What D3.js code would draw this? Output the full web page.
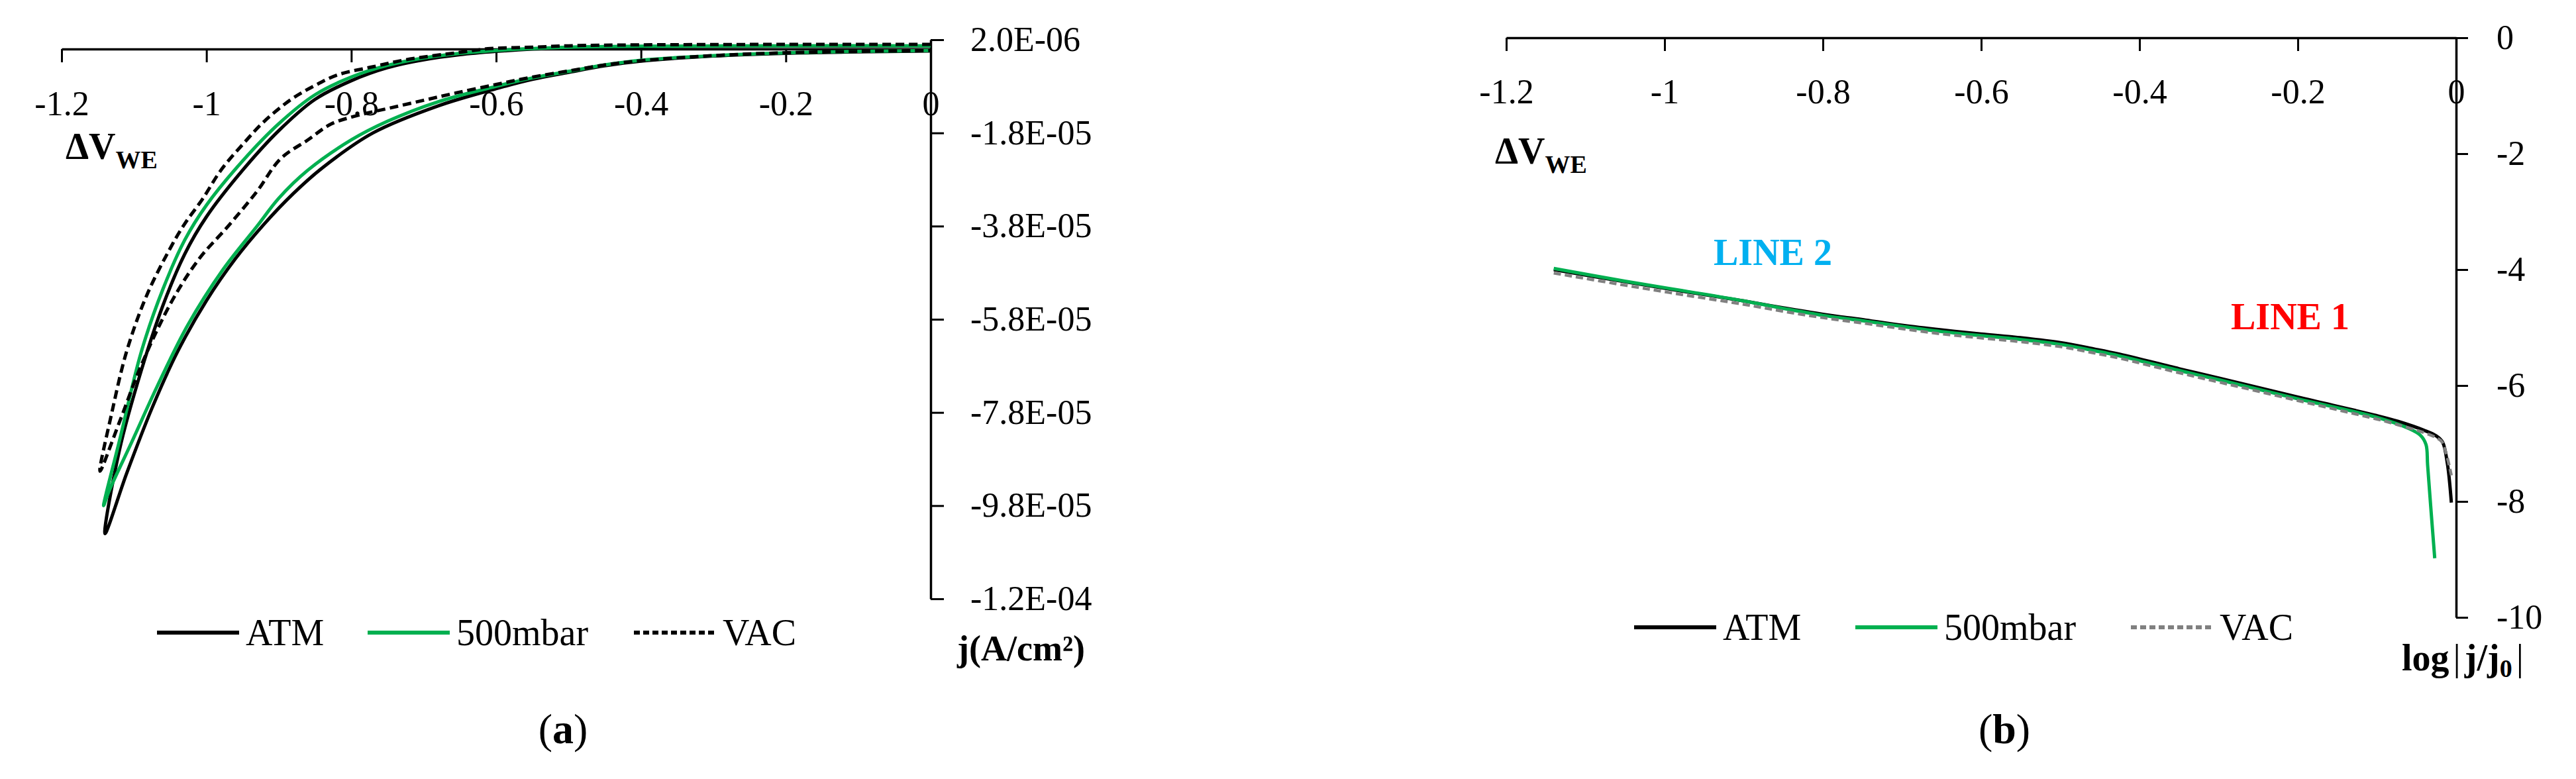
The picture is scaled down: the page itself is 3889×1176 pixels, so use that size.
<!DOCTYPE html>
<html>
<head>
<meta charset="utf-8">
<script src="https://cdn.jsdelivr.net/npm/d3@7"></script>
<style>
  body { margin: 0; background: #fff; }
  svg text { fill: #000; }
</style>
</head>
<body>
<div id="chart"></div>
<script>
// data
//====================
var xTicks = [-1.2, -1, -0.8, -0.6, -0.4, -0.2, 0];
var jTicks = [2, -18, -38, -58, -78, -98, -118];      // uA/cm2, labelled in A/cm2
var logTicks = [0, -2, -4, -6, -8, -10];
var seriesNames = ["ATM", "500mbar", "VAC"];

// (a) current density loops: forward sweep 0 -> tip, then return to 0  (uA/cm2)
var atmV = [0, -0.2, -0.4, -0.5, -0.55, -0.6, -0.65, -0.7, -0.75, -0.8, -0.85, -0.9, -0.95, -1.0, -1.03, -1.06, -1.09, -1.12, -1.14,
    -1.11, -1.075, -1.04, -1.0, -0.96, -0.92, -0.88, -0.84, -0.77, -0.68, -0.6, -0.55, -0.5, -0.45, -0.4, -0.3, -0.2, -0.1, 0];
var atmJ = [0.6, 0.6, 0.5, 0.3, 0, -0.5, -1.2, -2.3, -4.0, -6.8, -10.8, -17.5, -26, -36, -44, -55, -69, -86, -104,
    -91, -77, -65, -54, -45, -37.5, -31, -25.5, -18, -12.2, -8.5, -6.5, -5, -3.6, -2.6, -1.5, -0.9, -0.6, -0.4];

var barV = [0, -0.2, -0.4, -0.5, -0.55, -0.6, -0.65, -0.7, -0.75, -0.8, -0.85, -0.9, -0.95, -1.0, -1.03, -1.06, -1.09, -1.12, -1.142,
    -1.134, -1.103, -1.068, -1.026, -0.977, -0.93, -0.9, -0.86, -0.8, -0.75, -0.68, -0.6, -0.55, -0.5, -0.45, -0.4, -0.3, -0.2, -0.1, 0];
var barJ = [0.7, 0.7, 0.6, 0.4, 0.1, -0.3, -0.9, -1.9, -3.5, -6.0, -9.8, -16, -24, -33.5, -41, -51.5, -65, -84, -98,
    -94.7, -84.3, -72.4, -59.3, -47.3, -38, -32, -26, -19.5, -15.5, -11.3, -8, -6.2, -4.8, -3.4, -2.4, -1.4, -0.8, -0.5, -0.3];

var vacV = [0, -0.2, -0.4, -0.5, -0.55, -0.608, -0.65, -0.725, -0.77, -0.818, -0.85, -0.883, -0.92, -0.949, -0.98, -1.005, -1.03, -1.047, -1.082, -1.11, -1.131, -1.147,
    -1.12, -1.089, -1.047, -1.01, -0.97, -0.93, -0.898, -0.86, -0.828, -0.79, -0.748, -0.7, -0.655, -0.6, -0.553, -0.5, -0.45, -0.4, -0.3, -0.2, -0.1, 0];
var vacJ = [1.0, 1.0, 0.9, 0.7, 0.4, 0.1, -0.7, -2.3, -3.8, -5.5, -7.8, -10.8, -15.5, -20.3, -26, -32.1, -37.5, -41.9, -52.7, -64.8, -78.3, -90.6,
    -80.0, -67.5, -53.9, -45, -38, -30.5, -23.6, -19.5, -16.1, -14.2, -12.7, -11, -9.4, -7.6, -6.1, -4.7, -3.4, -2.5, -1.4, -0.8, -0.5, -0.3];

// (b) log|j/j0| against potential
var atmBV = [-1.14, -1.05, -0.974, -0.9, -0.85, -0.8, -0.746, -0.7, -0.65, -0.6, -0.561, -0.5, -0.457, -0.425, -0.35, -0.3, -0.2, -0.1, -0.073, -0.041, -0.025, -0.017, -0.011, -0.006];
var atmBL = [-4.00, -4.21, -4.38, -4.54, -4.66, -4.77, -4.87, -4.96, -5.04, -5.11, -5.16, -5.26, -5.37, -5.46, -5.71, -5.87, -6.20, -6.52, -6.62, -6.77, -6.87, -6.98, -7.35, -8.02];

var barBV = [-1.14, -1.05, -0.974, -0.9, -0.85, -0.8, -0.746, -0.7, -0.65, -0.6, -0.561, -0.5, -0.457, -0.425, -0.35, -0.3, -0.2, -0.1, -0.06, -0.045, -0.038, -0.036, -0.032, -0.027];
var barBL = [-3.98, -4.20, -4.37, -4.54, -4.67, -4.79, -4.89, -4.98, -5.07, -5.14, -5.19, -5.29, -5.40, -5.49, -5.74, -5.90, -6.23, -6.55, -6.74, -6.86, -7.02, -7.37, -8.10, -8.98];

var vacBV = [-1.14, -1.05, -0.974, -0.9, -0.85, -0.8, -0.746, -0.7, -0.65, -0.6, -0.561, -0.5, -0.457, -0.425, -0.35, -0.3, -0.2, -0.1, -0.073, -0.041, -0.025, -0.018, -0.012, -0.006];
var vacBL = [-4.06, -4.27, -4.44, -4.60, -4.72, -4.83, -4.93, -5.02, -5.11, -5.18, -5.23, -5.33, -5.44, -5.53, -5.78, -5.94, -6.26, -6.58, -6.68, -6.81, -6.90, -6.97, -7.20, -7.55];


var svgWidth = 3889;
var svgHeight = 1176;
var serif = '"Palatino Linotype", "Book Antiqua", "Liberation Serif", serif';

var svg = d3.select("#chart")
    .append("svg")
    .attr("width", svgWidth)
    .attr("height", svgHeight)
    .attr("font-family", serif)
    .style("background", "#fff");

// styles per series
var styleA = [
    { color: "#000", dash: null, width: 5 },
    { color: "#00B050", dash: null, width: 5 },
    { color: "#000", dash: "13,7", width: 5 }
];
var styleB = [
    { color: "#000", dash: null, width: 5 },
    { color: "#00B050", dash: null, width: 5 },
    { color: "#808080", dash: "11,6", width: 4.5 }
];

// Step 1: scales
// ==============================
var xA = d3.scaleLinear().domain([-1.2, 0]).range([93, 1405]);
var yA = d3.scaleLinear().domain([-118, 2]).range([904, 60]);
var xB = d3.scaleLinear().domain([-1.2, 0]).range([2274, 3708]);
var yB = d3.scaleLinear().domain([-10, 0]).range([932, 57]);

function sciFormat(d) {
    var s = (d * 1e-6).toExponential(1);
    return s.replace(/e([+-])(\d+)/, function (m, sg, n) {
        return "E" + sg + (n.length < 2 ? "0" + n : n);
    });
}

function styleAxis(g) {
    g.attr("font-size", 52).attr("font-family", serif);
    g.select(".domain").attr("stroke", "#000").attr("stroke-width", 3.5);
    g.selectAll(".tick line").attr("stroke", "#000").attr("stroke-width", 3);
    g.selectAll(".tick text").attr("font-family", serif);
}

// Step 2: axes
// ==============================
var axisXA = svg.append("g")
    .attr("transform", `translate(0, ${yA(0)})`)
    .call(d3.axisBottom(xA).tickValues(xTicks).tickSize(20).tickSizeOuter(0).tickFormat(d => String(d)))
    .call(styleAxis);
axisXA.selectAll("text").attr("y", 100).attr("dy", null);

svg.append("g")
    .attr("transform", `translate(${xA(0)}, 0)`)
    .call(d3.axisRight(yA).tickValues(jTicks).tickSize(20).tickPadding(40).tickSizeOuter(0).tickFormat(sciFormat))
    .call(styleAxis)
    .selectAll("text").attr("text-anchor", "start");

var axisXB = svg.append("g")
    .attr("transform", `translate(0, ${yB(0)})`)
    .call(d3.axisBottom(xB).tickValues(xTicks).tickSize(20).tickSizeOuter(0).tickFormat(d => String(d)))
    .call(styleAxis);
axisXB.selectAll("text").attr("y", 99).attr("dy", null);

svg.append("g")
    .attr("transform", `translate(${xB(0)}, 0)`)
    .call(d3.axisRight(yB).tickValues(logTicks).tickSize(18).tickPadding(43).tickSizeOuter(0).tickFormat(d => String(d)))
    .call(styleAxis);

// Step 3: lines
// ==============================
var seriesA = [d3.zip(atmV, atmJ), d3.zip(barV, barJ), d3.zip(vacV, vacJ)];
var seriesB = [d3.zip(atmBV, atmBL), d3.zip(barBV, barBL), d3.zip(vacBV, vacBL)];

var lineA = d3.line().x(d => xA(d[0])).y(d => yA(d[1])).curve(d3.curveCatmullRom.alpha(0.5));
var lineB = d3.line().x(d => xB(d[0])).y(d => yB(d[1])).curve(d3.curveCatmullRom.alpha(0.5));

svg.append("g").selectAll("path")
    .data(seriesA)
    .enter()
    .append("path")
    .attr("d", lineA)
    .attr("fill", "none")
    .attr("stroke", (d, i) => styleA[i].color)
    .attr("stroke-width", (d, i) => styleA[i].width)
    .attr("stroke-dasharray", (d, i) => styleA[i].dash)
    .attr("stroke-linejoin", "round");

svg.append("g").selectAll("path")
    .data(seriesB)
    .enter()
    .append("path")
    .attr("d", lineB)
    .attr("fill", "none")
    .attr("stroke", (d, i) => styleB[i].color)
    .attr("stroke-width", (d, i) => styleB[i].width)
    .attr("stroke-dasharray", (d, i) => styleB[i].dash)
    .attr("stroke-linejoin", "round");

// Step 4: legends
// ==============================
function legend(items, styles, y) {
    var g = svg.append("g");
    items.forEach(function (it, i) {
        g.append("line")
            .attr("x1", it.x).attr("x2", it.x + 124)
            .attr("y1", y).attr("y2", y)
            .attr("stroke", styles[i].color)
            .attr("stroke-width", 6)
            .attr("stroke-dasharray", styles[i].dash ? "9,5" : null);
        g.append("text")
            .attr("x", it.x + 134)
            .attr("y", y + 19)
            .attr("font-size", 56)
            .text(seriesNames[i]);
    });
}
legend([{ x: 237 }, { x: 555 }, { x: 957 }], styleA, 955);
legend([{ x: 2467 }, { x: 2801 }, { x: 3217 }], styleB, 947);

// Step 5: axis titles and labels
// ==============================
function dvLabel(x, y) {
    var t = svg.append("text").attr("x", x).attr("y", y).attr("font-size", 56).attr("font-weight", "bold");
    t.append("tspan").text("ΔV");
    t.append("tspan").attr("font-size", 38).attr("dy", 14).text("WE");
}
dvLabel(99, 240);
dvLabel(2257, 247);

svg.append("text")
    .attr("x", 1445).attr("y", 997)
    .attr("font-size", 54).attr("font-weight", "bold")
    .text("j(A/cm²)");

var logT = svg.append("text")
    .attr("x", 3626).attr("y", 1012)
    .attr("font-size", 56).attr("font-weight", "bold");
logT.append("tspan").text("log");
logT.append("tspan").attr("font-weight", "normal").attr("dx", 6).text("|");
logT.append("tspan").attr("dx", 6).text("j/j");
logT.append("tspan").attr("font-size", 38).attr("dy", 10).text("0");
logT.append("tspan").attr("font-weight", "normal").attr("dy", -10).attr("dx", 6).text("|");

svg.append("text")
    .attr("x", 2587).attr("y", 400)
    .attr("font-size", 56).attr("font-weight", "bold")
    .style("fill", "#00B0F0")
    .text("LINE 2");

svg.append("text")
    .attr("x", 3368).attr("y", 497)
    .attr("font-size", 56).attr("font-weight", "bold")
    .style("fill", "#FF0000")
    .text("LINE 1");

function panelLabel(x, letter) {
    var t = svg.append("text").attr("x", x).attr("y", 1122).attr("font-size", 64).attr("text-anchor", "middle");
    t.append("tspan").text("(");
    t.append("tspan").attr("font-weight", "bold").text(letter);
    t.append("tspan").text(")");
}
panelLabel(850, "a");
panelLabel(3026, "b");
</script>
</body>
</html>
